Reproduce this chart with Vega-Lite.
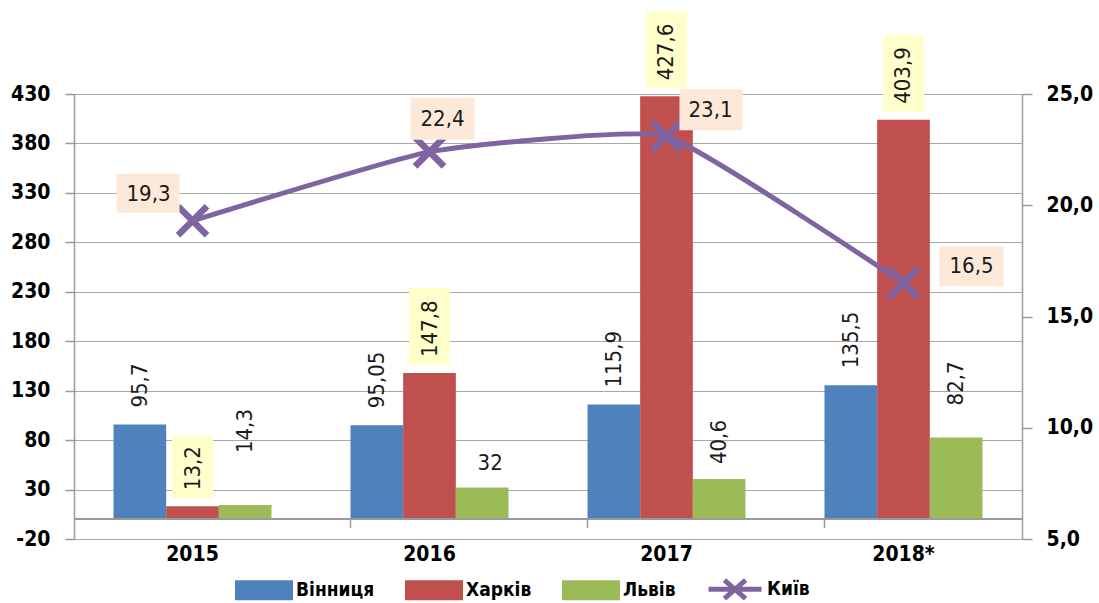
{
  "$schema": "https://vega.github.io/schema/vega-lite/v6.json",
  "width": 948,
  "height": 445,
  "autosize": {"type": "none"},
  "padding": {"left": 74, "top": 94, "right": 77, "bottom": 64},
  "background": "white",
  "datasets": {
    "bars": [
      {"year": "2015", "series": "Вінниця", "value": 95.7},
      {"year": "2015", "series": "Харків", "value": 13.2},
      {"year": "2015", "series": "Львів", "value": 14.3},
      {"year": "2016", "series": "Вінниця", "value": 95.05},
      {"year": "2016", "series": "Харків", "value": 147.8},
      {"year": "2016", "series": "Львів", "value": 32},
      {"year": "2017", "series": "Вінниця", "value": 115.9},
      {"year": "2017", "series": "Харків", "value": 427.6},
      {"year": "2017", "series": "Львів", "value": 40.6},
      {"year": "2018*", "series": "Вінниця", "value": 135.5},
      {"year": "2018*", "series": "Харків", "value": 403.9},
      {"year": "2018*", "series": "Львів", "value": 82.7}
    ],
    "kyiv": [
      {"year": "2015", "series": "Київ", "value": 19.3},
      {"year": "2016", "series": "Київ", "value": 22.4},
      {"year": "2017", "series": "Київ", "value": 23.1},
      {"year": "2018*", "series": "Київ", "value": 16.5}
    ]
  },
  "config": {
    "view": {"stroke": null},
    "locale": {"number": {"decimal": ",", "thousands": " ", "grouping": [3], "currency": ["", ""], "minus": "-"}},
    "axis": {
      "labelFont": "DejaVu Sans Condensed, DejaVu Sans",
      "labelFontSize": 21,
      "labelFontWeight": "bold",
      "labelColor": "#000000",
      "domainColor": "#9A9A9A",
      "domainWidth": 1.5,
      "tickColor": "#9A9A9A",
      "tickWidth": 1.5,
      "gridColor": "#A8A8A8",
      "gridWidth": 1.2,
      "title": null
    },
    "text": {"font": "DejaVu Sans Condensed, DejaVu Sans", "fontSize": 22, "color": "#1a1a1a"}
  },
  "resolve": {"scale": {"y": "independent"}},
  "layer": [
    {
      "data": {"name": "bars"},
      "layer": [
        {
          "mark": {"type": "bar"},
          "encoding": {
            "x": {
              "field": "year", "type": "nominal", "sort": null,
              "scale": {"domain": ["2015", "2016", "2017", "2018*"], "paddingInner": 0.3333, "paddingOuter": 0.1667},
              "axis": {"title": null, "orient": "bottom", "domain": false, "ticks": false, "labelAngle": 0, "labelPadding": 4, "labelBaseline": "top"}
            },
            "xOffset": {"field": "series", "type": "nominal", "scale": {"domain": ["Вінниця", "Харків", "Львів"], "paddingInner": 0, "paddingOuter": 0}},
            "y": {
              "field": "value", "type": "quantitative", "stack": null,
              "scale": {"domain": [-20, 430], "nice": false, "zero": false},
              "axis": {"title": null, "orient": "left", "values": [-20, 30, 80, 130, 180, 230, 280, 330, 380, 430], "format": "d", "grid": true, "tickSize": 9, "labelPadding": 15}
            },
            "y2": {"datum": 0},
            "color": {
              "field": "series", "type": "nominal",
              "scale": {"domain": ["Вінниця", "Харків", "Львів", "Київ"], "range": ["#4F81BD", "#C0504D", "#9BBB59", "#8064A2"]},
              "legend": {
                "title": null,
                "orient": "none",
                "legendX": 161,
                "legendY": 466,
                "direction": "horizontal",
                "labelFont": "DejaVu Sans Condensed, DejaVu Sans",
                "labelFontSize": 19,
                "labelFontWeight": "bold",
                "labelColor": "#000000",
                "labelOffset": 3,
                "columnPadding": 22,
                "symbolSize": 2809,
                "symbolType": "M-1,-0.283H1V0.283H-1Z",
                "symbolOpacity": 1,
                "symbolStrokeWidth": 5,
                "encode": {
                  "symbols": {
                    "update": {
                      "shape": {"signal": "datum.value==='Київ' ? 'M-1,0H1M-0.4,-0.35L0.4,0.35M-0.4,0.35L0.4,-0.35' : 'M-1,-0.283H1V0.283H-1Z'"},
                      "fill": {"signal": "datum.value==='Вінниця' ? '#4F81BD' : datum.value==='Харків' ? '#C0504D' : datum.value==='Львів' ? '#9BBB59' : 'transparent'"},
                      "stroke": {"signal": "datum.value==='Київ' ? '#8064A2' : 'transparent'"},
                      "strokeWidth": {"value": 5},
                      "opacity": {"value": 1}
                    }
                  }
                }
              }
            }
          }
        },
        {
          "mark": {"type": "rule", "color": "#9A9A9A", "strokeWidth": 1.5},
          "encoding": {"y": {"datum": 0, "type": "quantitative"}}
        },
        {
          "transform": [{"filter": "datum.series==='Вінниця' && datum.year!=='2015'"}],
          "mark": {"type": "rule", "color": "#9A9A9A", "strokeWidth": 1.5},
          "encoding": {
            "x": {"field": "year", "type": "nominal", "bandPosition": 0},
            "y": {"datum": 0, "type": "quantitative"},
            "y2": {"datum": -9}
          }
        },
        {
          "transform": [{"filter": "datum.series==='Харків'"}],
          "mark": {"type": "point", "filled": true, "color": "#FFFFCC", "opacity": 1, "size": 10000, "strokeWidth": 0},
          "encoding": {
            "x": {"field": "year", "type": "nominal"},
            "xOffset": {"field": "series", "type": "nominal"},
            "y": {"field": "value", "type": "quantitative"},
            "shape": {"condition": {"test": "datum.value < 100", "value": "M-0.41,-1.42H0.41V-0.16H-0.41Z"}, "value": "M-0.41,-1.7H0.41V-0.16H-0.41Z"}
          }
        },
        {
          "transform": [{"filter": "datum.series==='Вінниця'"}],
          "mark": {"type": "text", "angle": 270, "align": "left", "baseline": "middle", "dx": 17},
          "encoding": {
            "x": {"field": "year", "type": "nominal"},
            "xOffset": {"field": "series", "type": "nominal"},
            "y": {"field": "value", "type": "quantitative"},
            "text": {"field": "value", "type": "quantitative", "format": "~g"}
          }
        },
        {
          "transform": [{"filter": "datum.series==='Харків'"}],
          "mark": {"type": "text", "angle": 270, "align": "left", "baseline": "middle", "dx": 16},
          "encoding": {
            "x": {"field": "year", "type": "nominal"},
            "xOffset": {"field": "series", "type": "nominal"},
            "y": {"field": "value", "type": "quantitative"},
            "text": {"field": "value", "type": "quantitative", "format": "~g"}
          }
        },
        {
          "transform": [{"filter": "datum.series==='Львів' && datum.year==='2017'"}],
          "mark": {"type": "text", "angle": 270, "align": "left", "baseline": "middle", "dx": 15},
          "encoding": {
            "x": {"field": "year", "type": "nominal"},
            "xOffset": {"field": "series", "type": "nominal"},
            "y": {"field": "value", "type": "quantitative"},
            "text": {"field": "value", "type": "quantitative", "format": "~g"}
          }
        },
        {
          "transform": [{"filter": "datum.series==='Львів' && datum.year==='2018*'"}],
          "mark": {"type": "text", "angle": 270, "align": "left", "baseline": "middle", "dx": 32},
          "encoding": {
            "x": {"field": "year", "type": "nominal"},
            "xOffset": {"field": "series", "type": "nominal"},
            "y": {"field": "value", "type": "quantitative"},
            "text": {"field": "value", "type": "quantitative", "format": "~g"}
          }
        },
        {
          "transform": [{"filter": "datum.series==='Львів' && datum.year==='2015'"}],
          "mark": {"type": "text", "angle": 270, "align": "left", "baseline": "middle", "dx": 52},
          "encoding": {
            "x": {"field": "year", "type": "nominal"},
            "xOffset": {"field": "series", "type": "nominal"},
            "y": {"field": "value", "type": "quantitative"},
            "text": {"field": "value", "type": "quantitative", "format": "~g"}
          }
        },
        {
          "transform": [{"filter": "datum.series==='Львів' && datum.year==='2016'"}],
          "mark": {"type": "text", "align": "center", "baseline": "middle", "dy": -25, "dx": 8},
          "encoding": {
            "x": {"field": "year", "type": "nominal"},
            "xOffset": {"field": "series", "type": "nominal"},
            "y": {"field": "value", "type": "quantitative"},
            "text": {"field": "value", "type": "quantitative", "format": "~g"}
          }
        }
      ]
    },
    {
      "data": {"name": "kyiv"},
      "layer": [
        {
          "mark": {"type": "line", "strokeWidth": 5, "interpolate": "cardinal", "tension": 0.6},
          "encoding": {
            "x": {"field": "year", "type": "nominal"},
            "y": {
              "field": "value", "type": "quantitative",
              "scale": {"domain": [5, 25], "nice": false, "zero": false},
              "axis": {"title": null, "orient": "right", "values": [5, 10, 15, 20, 25], "format": ".1f", "grid": false, "tickSize": 10, "labelPadding": 14}
            },
            "color": {"field": "series", "type": "nominal"}
          }
        },
        {
          "mark": {"type": "point", "shape": "M-1,-1L1,1M-1,1L1,-1", "filled": false, "color": "#8064A2", "strokeWidth": 6.5, "size": 841, "opacity": 1},
          "encoding": {
            "x": {"field": "year", "type": "nominal"},
            "y": {"field": "value", "type": "quantitative"}
          }
        },
        {
          "mark": {"type": "point", "filled": true, "color": "#FDE9D9", "opacity": 1, "size": 10000, "strokeWidth": 0},
          "encoding": {
            "x": {"field": "year", "type": "nominal"},
            "y": {"field": "value", "type": "quantitative"},
            "shape": {
              "condition": [
                {"test": "datum.year==='2015'", "value": "M-1.52,-0.94H-0.26V-0.16H-1.52Z"},
                {"test": "datum.year==='2016'", "value": "M-0.38,-1.08H0.9V-0.24H-0.38Z"},
                {"test": "datum.year==='2017'", "value": "M0.26,-0.94H1.52V-0.12H0.26Z"}
              ],
              "value": "M0.72,-0.74H2V0.06H0.72Z"
            }
          }
        },
        {
          "transform": [{"filter": "datum.year==='2015'"}],
          "mark": {"type": "text", "dx": -44, "dy": -27},
          "encoding": {
            "x": {"field": "year", "type": "nominal"},
            "y": {"field": "value", "type": "quantitative"},
            "text": {"field": "value", "type": "quantitative", "format": "~g"}
          }
        },
        {
          "transform": [{"filter": "datum.year==='2016'"}],
          "mark": {"type": "text", "dx": 13, "dy": -33},
          "encoding": {
            "x": {"field": "year", "type": "nominal"},
            "y": {"field": "value", "type": "quantitative"},
            "text": {"field": "value", "type": "quantitative", "format": "~g"}
          }
        },
        {
          "transform": [{"filter": "datum.year==='2017'"}],
          "mark": {"type": "text", "dx": 44, "dy": -26},
          "encoding": {
            "x": {"field": "year", "type": "nominal"},
            "y": {"field": "value", "type": "quantitative"},
            "text": {"field": "value", "type": "quantitative", "format": "~g"}
          }
        },
        {
          "transform": [{"filter": "datum.year==='2018*'"}],
          "mark": {"type": "text", "dx": 68, "dy": -17},
          "encoding": {
            "x": {"field": "year", "type": "nominal"},
            "y": {"field": "value", "type": "quantitative"},
            "text": {"field": "value", "type": "quantitative", "format": "~g"}
          }
        }
      ]
    }
  ]
}
